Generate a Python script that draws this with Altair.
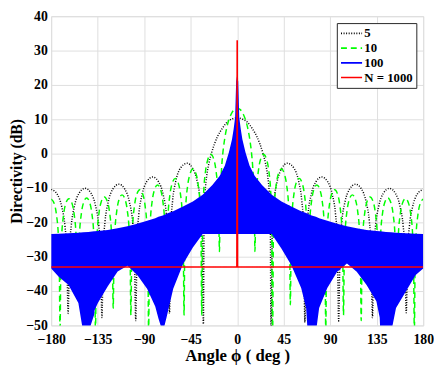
import altair as alt
import pandas as pd

FONT = "Liberation Serif"

# ---------------- N = 5 (black dotted) : right half angles, values right / left side
n5_deg = [0, 5, 10, 15, 19, 22, 25, 27.5, 29.5, 31, 32, 32.7,
          34.1, 35.7, 38.7, 43.2, 48.5, 55, 59.5, 62.5, 64.1, 65.5,
          66.9, 68.5, 71.5, 76, 81.8, 87.7, 92.2, 95.2, 96.8, 98.2,
          99.6, 101.2, 104.2, 108.7, 114.5, 120.4, 124.9, 127.9, 129.5, 130.9,
          132.3, 133.9, 136.9, 141.4, 147.3, 153.1, 157.6, 160.6, 162.2, 163.6,
          165, 166.6, 169.6, 174.1, 180]
n5_db_right = [10.4, 10.1, 9.1, 7.1, 5.0, 2.8, 0.0, -3.0, -6.5, -11, -17, -52,
               -20.3, -13.7, -8.1, -4.25, -2.8, -4.25, -8.1, -13.7, -20.3, -49.1,
               -24.3, -17.7, -12.1, -8.25, -6.8, -8.25, -12.1, -17.7, -24.3, -48.7,
               -26.4, -19.8, -14.2, -10.35, -8.9, -10.35, -14.2, -19.8, -26.4, -47.7,
               -27.6, -21, -15.4, -11.55, -10.1, -11.55, -15.4, -21, -27.6, -46.3,
               -27.9, -21.3, -15.7, -11.85, -10.4]
n5_db_left = [10.4, 10.1, 9.1, 7.1, 5.0, 2.8, 0.0, -3.0, -6.5, -11, -17, -49.6,
              -20.3, -13.7, -8.1, -4.25, -2.8, -4.25, -8.1, -13.7, -20.3, -46.5,
              -24.3, -17.7, -12.1, -8.25, -6.8, -8.25, -12.1, -17.7, -24.3, -48.6,
              -26.4, -19.8, -14.2, -10.35, -8.9, -10.35, -14.2, -19.8, -26.4, -47.7,
              -27.6, -21, -15.4, -11.55, -10.1, -11.55, -15.4, -21, -27.6, -46.5,
              -27.9, -21.3, -15.7, -11.85, -10.4]

# ---------------- N = 10 (green dashed)
n10_deg = [0, 3, 6, 8, 10, 12, 14, 15, 16, 16.7, 17.14,
           17.94, 18.74, 20.64, 22.64, 25.5, 28.6, 30.6, 32.5, 33.3, 34.29,
           35.09, 35.89, 37.79, 39.79, 42.86, 45.93, 47.93, 49.83, 50.63, 51.43,
           52.23, 53.03, 54.93, 56.93, 60, 63.07, 65.07, 66.97, 67.77, 68.57,
           69.37, 70.17, 72.07, 74.07, 77.14, 80.21, 82.21, 84.11, 84.91, 85.71,
           86.51, 87.31, 89.21, 91.21, 94.29, 97.36, 99.36, 101.26, 102.06, 102.86,
           103.66, 104.46, 106.36, 108.36, 111.43, 114.5, 116.5, 118.4, 119.2, 120,
           120.8, 121.6, 123.5, 125.5, 128.57, 131.64, 133.64, 135.54, 136.34, 137.14,
           137.94, 138.74, 140.64, 142.64, 145.71, 148.78, 150.78, 152.68, 153.48, 154.29,
           155.09, 155.89, 157.79, 159.79, 162.86, 165.93, 167.93, 169.83, 170.63, 171.43,
           172.23, 173.03, 174.93, 176.93, 180]
n10_db_right = [13.2, 12.8, 11.4, 9.9, 7.7, 4.5, -0.2, -3.8, -9.7, -17, -28.5,
                -16.9, -11, -4.7, -1.65, -0.2, -1.9, -5.0, -11.5, -17.5, -52,
                -21.2, -15.3, -9.0, -5.95, -4.5, -6.2, -9.3, -15.6, -21.5, -44,
                -23.9, -18, -11.7, -8.65, -7.2, -8.8, -11.9, -18.2, -24.1, -45,
                -25.8, -19.9, -13.6, -10.55, -9.1, -10.65, -13.7, -20, -25.9, -52,
                -27.2, -21.3, -15, -11.95, -10.5, -12, -15.1, -21.4, -27.3, -47,
                -28.7, -22.8, -16.5, -13.45, -12.0, -13.5, -16.6, -22.9, -28.8, -48.6,
                -29.3, -23.4, -17.1, -14.05, -12.6, -14.05, -17.1, -23.4, -29.3, -45,
                -29.6, -23.7, -17.4, -14.35, -12.9, -14.35, -17.4, -23.7, -29.6, -38,
                -29.8, -23.9, -17.6, -14.55, -13.1, -14.55, -17.6, -23.9, -29.8, -52,
                -29.9, -24, -17.7, -14.65, -13.2]
n10_db_left = [13.2, 12.8, 11.4, 9.9, 7.7, 4.5, -0.2, -3.8, -9.7, -17, -28.5,
               -16.9, -11, -4.7, -1.65, -0.2, -1.9, -5.0, -11.5, -17.5, -47,
               -21.2, -15.3, -9.0, -5.95, -4.5, -6.2, -9.3, -15.6, -21.5, -47,
               -23.9, -18, -11.7, -8.65, -7.2, -8.8, -11.9, -18.2, -24.1, -45,
               -25.8, -19.9, -13.6, -10.55, -9.1, -10.65, -13.7, -20, -25.9, -52,
               -27.2, -21.3, -15, -11.95, -10.5, -12, -15.1, -21.4, -27.3, -47,
               -28.7, -22.8, -16.5, -13.45, -12.0, -13.5, -16.6, -22.9, -28.8, -45,
               -29.3, -23.4, -17.1, -14.05, -12.6, -14.05, -17.1, -23.4, -29.3, -52,
               -29.6, -23.7, -17.4, -14.35, -12.9, -14.35, -17.4, -23.7, -29.6, -38,
               -29.8, -23.9, -17.6, -14.55, -13.1, -14.55, -17.6, -23.9, -29.8, -52,
               -29.9, -24, -17.7, -14.65, -13.2]

# ---------------- N = 100 (blue band: lower / upper edge of the dense pattern)
n100_deg = [0, 1, 2, 3.5, 5, 8, 12, 17, 24, 33.4, 42.9, 52.4, 61.9, 66.7, 68.2,
            72, 76.2, 79.3, 87.2, 96.7, 106.2, 115.7, 125.2, 134.7, 137.9, 138.5,
            144, 149, 153.7, 163.2, 172.7, 180]
n100_upper = [23, 21, 10.5, 7, 4.2, 0.4, -3.5, -6.5, -9.1, -12, -13.9, -15.4, -16.8,
              -17.3, -17.5, -18, -18.4, -18.8, -19.5, -20.4, -21.1, -21.7, -22.2,
              -22.5, -22.6, -22.6, -22.8, -22.9, -23, -23.2, -23.3, -23.4]
n100_lower_right = [-23.4, -23.4, -23.4, -23.4, -23.4, -23.4, -23.4, -23.4, -23.4,
                    -23.4, -27.7, -32.5, -39.1, -44.9, -52, -52, -52, -44.9, -39.1,
                    -34.4, -32, -34.4, -38.2, -43, -47.7, -52, -52, -52, -44.9,
                    -40.1, -35.3, -33.4]
n100_lower_left = [-23.4, -23.4, -23.4, -23.4, -23.4, -23.4, -23.4, -23.4, -23.4,
                   -23.4, -27.3, -32.1, -39.3, -45.5, -47.5, -52, -48, -44.5, -39.3,
                   -35.3, -32.6, -34.3, -38.6, -43.4, -45.5, -47, -52, -52, -43.5,
                   -38.2, -35.8, -33.4]

# ---------------- N = 1000 (red)
n1000_deg = [-180, -0.3, 0, 0.3, 180]
n1000_db = [-33, -33, 33, -33, -33]

series_names = ["5", "10", "100", "N = 1000"]
series_colors = ["#000000", "#00ff00", "#0000ff", "#ff0000"]
series_dash = [[1, 1.6], [6, 4], [1, 0], [1, 0]]
x_ticks = [-180, -135, -90, -45, 0, 45, 90, 135, 180]
y_ticks = [-50, -40, -30, -20, -10, 0, 10, 20, 30, 40]

rows = []
for d, r, l in zip(n5_deg, n5_db_right, n5_db_left):
    rows.append({"angle": d, "db": r, "series": "5"})
    if d != 0:
        rows.append({"angle": -d, "db": l, "series": "5"})
for d, r, l in zip(n10_deg, n10_db_right, n10_db_left):
    rows.append({"angle": d, "db": r, "series": "10"})
    if d != 0:
        rows.append({"angle": -d, "db": l, "series": "10"})
lines_df = pd.DataFrame(rows)

band_rows = []
for d, u, lr, ll in zip(n100_deg, n100_upper, n100_lower_right, n100_lower_left):
    band_rows.append({"angle": d, "lo": lr, "hi": u})
    if d != 0:
        band_rows.append({"angle": -d, "lo": ll, "hi": u})
band_df = pd.DataFrame(band_rows).sort_values("angle")

red_df = pd.DataFrame({"angle": n1000_deg, "db": n1000_db, "series": "N = 1000"})

xscale = alt.Scale(domain=[-180, 180], nice=False, zero=False)
yscale = alt.Scale(domain=[-50, 40], nice=False, zero=False)

xaxis = alt.Axis(values=x_ticks, title="Angle ϕ ( deg )",
                 labelFont=FONT, labelFontSize=14, labelFontWeight="bold", labelColor="black",
                 titleFont=FONT, titleFontSize=17, titleFontWeight="bold", titleColor="black",
                 tickSize=0, labelPadding=7, titlePadding=2, gridColor="#dedede",
                 domain=False, labelFlush=False, labelOverlap=False)
yaxis = alt.Axis(values=y_ticks, title="Directivity (dB)",
                 labelFont=FONT, labelFontSize=14, labelFontWeight="bold", labelColor="black",
                 titleFont=FONT, titleFontSize=16, titleFontWeight="bold", titleColor="black",
                 tickSize=0, labelPadding=4, titlePadding=1, gridColor="#dedede",
                 domain=False, labelFlush=False, labelOverlap=False)

legend_opts = dict(title=None, orient="top-right", offset=7,
                   strokeColor="#262626", fillColor="white",
                   padding=3, symbolType="stroke", symbolSize=460,
                   symbolStrokeWidth=1.6, labelFont=FONT,
                   labelFontSize=13, labelFontWeight="bold",
                   labelColor="black", rowPadding=0, labelOffset=1, clipHeight=15)

color_enc = alt.Color("series:N",
                      scale=alt.Scale(domain=series_names, range=series_colors),
                      legend=alt.Legend(**legend_opts))
dash_enc = alt.StrokeDash("series:N",
                          scale=alt.Scale(domain=series_names, range=series_dash),
                          legend=alt.Legend(**legend_opts))

X = alt.X("angle:Q", scale=xscale, axis=xaxis)

base_lines = alt.Chart(lines_df).mark_line(clip=True, strokeWidth=1.5, interpolate="monotone").encode(
    x=X,
    y=alt.Y("db:Q", scale=yscale, axis=yaxis),
    color=color_enc,
    strokeDash=dash_enc,
    detail="series:N",
)

band = alt.Chart(band_df).mark_area(clip=True, color="#0000ff", opacity=1).encode(
    x=X,
    y=alt.Y("lo:Q", scale=yscale, axis=yaxis),
    y2="hi:Q",
)

red = alt.Chart(red_df).mark_line(clip=True, strokeWidth=1.6).encode(
    x=X,
    y=alt.Y("db:Q", scale=yscale, axis=yaxis),
    color=color_enc,
    strokeDash=dash_enc,
)

chart = alt.layer(base_lines, band, red).properties(
    width=379, height=315,
    autosize=alt.AutoSizeParams(type="none"),
    padding={"left": 44, "top": 5, "right": 11, "bottom": 40},
).configure_view(stroke="#262626", strokeWidth=1.2).configure(background="white")

chart.save("out.html", embed_options={"renderer": "svg", "actions": False})
